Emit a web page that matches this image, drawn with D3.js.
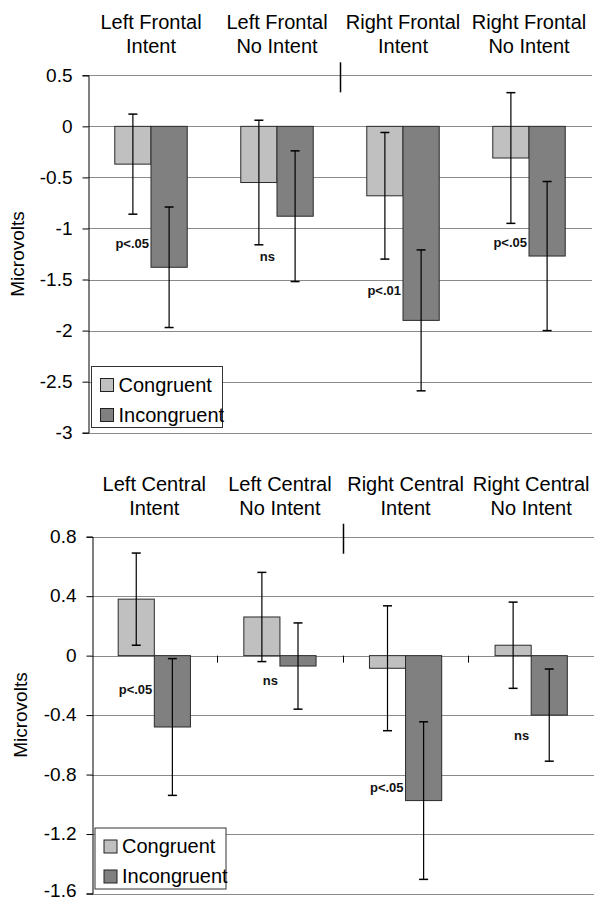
<!DOCTYPE html>
<html>
<head>
<meta charset="utf-8">
<script src="https://cdn.jsdelivr.net/npm/d3@7/dist/d3.min.js"></script>
<style>
  html, body { margin: 0; padding: 0; background: #fff; }
  svg { display: block; font-family: "Liberation Sans", Arial, sans-serif; }
</style>
</head>
<body>
<svg id="chart" width="594" height="901"></svg>
<script>
// ---------- data ----------
const seriesNames = ["Congruent", "Incongruent"];

const categoriesTop = ["Left Frontal|Intent", "Left Frontal|No Intent", "Right Frontal|Intent", "Right Frontal|No Intent"];
const congruentTop = [-0.37, -0.55, -0.68, -0.31];
const incongruentTop = [-1.38, -0.88, -1.90, -1.27];
const congruentErrTop = [0.49, 0.61, 0.62, 0.64];
const incongruentErrTop = [0.59, 0.64, 0.69, 0.73];
const pLabelsTop = ["p<.05", "ns", "p<.01", "p<.05"];
const pLabelValTop = [-1.19, -1.32, -1.65, -1.18];
const ticksTop = [0.5, 0, -0.5, -1, -1.5, -2, -2.5, -3];
const tickLabelsTop = ["0.5", "0", "-0.5", "-1", "-1.5", "-2", "-2.5", "-3"];

const categoriesBot = ["Left Central|Intent", "Left Central|No Intent", "Right Central|Intent", "Right Central|No Intent"];
const congruentBot = [0.38, 0.26, -0.085, 0.07];
const incongruentBot = [-0.48, -0.07, -0.975, -0.40];
const congruentErrBot = [0.31, 0.30, 0.42, 0.29];
const incongruentErrBot = [0.46, 0.29, 0.53, 0.31];
const pLabelsBot = ["p<.05", "ns", "p<.05", "ns"];
const pLabelValBot = [-0.26, -0.20, -0.92, -0.565];
const ticksBot = [0.8, 0.4, 0, -0.4, -0.8, -1.2, -1.6];
const tickLabelsBot = ["0.8", "0.4", "0", "-0.4", "-0.8", "-1.2", "-1.6"];

// ---------- drawing ----------
const svg = d3.select("#chart");
const colors = { Congruent: "#c0c0c0", Incongruent: "#808080" };

function drawPanel(cfg) {
  const g = svg.append("g");
  const x0 = d3.scaleBand().domain(cfg.categories).range([cfg.left, cfg.right])
    .paddingInner(0.425).paddingOuter(0.2125);
  const x1 = d3.scaleBand().domain(seriesNames).range([0, x0.bandwidth()]);
  const y = d3.scaleLinear().domain([cfg.ticks[cfg.ticks.length - 1], cfg.ticks[0]])
    .range([cfg.bottom, cfg.top]);
  const step = x0.step();
  const catLeft = c => x0(c) - step * 0.2125;

  // gridlines
  g.append("g").selectAll("line").data(cfg.ticks).join("line")
    .attr("x1", cfg.left).attr("x2", cfg.right)
    .attr("y1", d => Math.round(y(d)) + 0.5).attr("y2", d => Math.round(y(d)) + 0.5)
    .attr("stroke", "#8a8a8a").attr("stroke-width", 1);

  // y axis
  const axis = d3.axisLeft(y).tickValues(cfg.ticks)
    .tickFormat((d, i) => cfg.tickLabels[i]).tickSize(6).tickPadding(10);
  const ag = g.append("g").attr("transform", `translate(${Math.round(cfg.left) + 0.5},0)`).call(axis);
  ag.select(".domain").attr("stroke", "#000");
  ag.selectAll(".tick line").attr("stroke", "#000");
  const lastIdx = cfg.ticks.length - 1;
  ag.selectAll(".tick text").attr("font-size", 19).attr("fill", "#000")
    .attr("dy", (d, i) => (cfg.lastLift && i === lastIdx) ? "0.15em" : "0.3em")
    .attr("font-family", "Liberation Sans, Arial, sans-serif");

  // category ticks on zero line
  if (cfg.zeroTicks) {
    g.append("g").selectAll("line").data(cfg.categories.slice(1)).join("line")
      .attr("x1", d => Math.round(catLeft(d)) + 0.5).attr("x2", d => Math.round(catLeft(d)) + 0.5)
      .attr("y1", y(0)).attr("y2", y(0) + 7)
      .attr("stroke", "#000");
  }
  // tick crossing the top line
  const tx = Math.round(catLeft(cfg.categories[2])) + 0.5;
  g.append("line").attr("x1", tx).attr("x2", tx)
    .attr("y1", cfg.top - 13).attr("y2", cfg.top + 17)
    .attr("stroke", "#000").attr("stroke-width", 1.5);

  // bars
  const rows = cfg.categories.map((c, i) => ({
    cat: c,
    vals: [
      { s: "Congruent", v: cfg.cong[i], e: cfg.congErr[i] },
      { s: "Incongruent", v: cfg.incong[i], e: cfg.incongErr[i] }
    ]
  }));
  const grp = g.append("g").selectAll("g").data(rows).join("g")
    .attr("transform", d => `translate(${x0(d.cat)},0)`);
  grp.selectAll("rect").data(d => d.vals).join("rect")
    .attr("x", d => x1(d.s))
    .attr("width", x1.bandwidth())
    .attr("y", d => y(Math.max(0, d.v)))
    .attr("height", d => Math.abs(y(d.v) - y(0)))
    .attr("fill", d => colors[d.s])
    .attr("stroke", "#2a2a2a").attr("stroke-width", 1);

  // error bars
  const eb = grp.selectAll("g.err").data(d => d.vals).join("g").attr("class", "err");
  const cx = d => x1(d.s) + x1.bandwidth() / 2;
  eb.append("line").attr("x1", cx).attr("x2", cx)
    .attr("y1", d => y(d.v + d.e)).attr("y2", d => y(d.v - d.e))
    .attr("stroke", "#000").attr("stroke-width", 1.2);
  [1, -1].forEach(sgn => {
    eb.append("line").attr("x1", d => cx(d) - 4.5).attr("x2", d => cx(d) + 4.5)
      .attr("y1", d => y(d.v + sgn * d.e)).attr("y2", d => y(d.v + sgn * d.e))
      .attr("stroke", "#000").attr("stroke-width", 1.5);
  });

  // significance labels
  g.append("g").selectAll("text").data(cfg.categories).join("text")
    .attr("x", d => x0(d) + x1.bandwidth() - 2)
    .attr("y", (d, i) => y(cfg.pVals[i]))
    .attr("text-anchor", "end")
    .attr("font-size", 13).attr("font-weight", "bold").attr("fill", "#111")
    .text((d, i) => cfg.pLabels[i]);

  // category labels
  const cl = g.append("g").selectAll("text").data(cfg.categories).join("text")
    .attr("x", d => x0(d) + x0.bandwidth() / 2)
    .attr("y", cfg.top - 46)
    .attr("text-anchor", "middle").attr("font-size", 20).attr("fill", "#000");
  cl.selectAll("tspan").data(d => d.split("|")).join("tspan")
    .attr("x", function () { return d3.select(this.parentNode).attr("x"); })
    .attr("dy", (d, i) => i === 0 ? 0 : 24)
    .text(d => d);

  // y title
  g.append("text")
    .attr("transform", `translate(${cfg.titleX},${(cfg.top + cfg.bottom) / 2}) rotate(-90)`)
    .attr("text-anchor", "middle").attr("font-size", 19).attr("fill", "#000")
    .text("Microvolts");

  // legend
  const lg = g.append("g").attr("transform", `translate(${cfg.left + 3.5},${cfg.legendY})`);
  lg.append("rect").attr("x", 0).attr("y", 0).attr("width", 131).attr("height", 61)
    .attr("fill", "#fff").attr("stroke", "#333").attr("stroke-width", 1);
  seriesNames.forEach((s, i) => {
    lg.append("rect").attr("x", 9).attr("y", 12 + i * 30).attr("width", 13).attr("height", 13)
      .attr("fill", colors[s]).attr("stroke", "#222");
    lg.append("text").attr("x", 27).attr("y", 25 + i * 30)
      .attr("font-size", 20).attr("fill", "#000").text(s);
  });
}

drawPanel({
  categories: categoriesTop, cong: congruentTop, incong: incongruentTop,
  congErr: congruentErrTop, incongErr: incongruentErrTop,
  pLabels: pLabelsTop, pVals: pLabelValTop,
  ticks: ticksTop, tickLabels: tickLabelsTop,
  left: 88, right: 592, top: 75.3, bottom: 432.7,
  zeroTicks: false, titleX: 24, legendY: 366.5, lastLift: false
});
drawPanel({
  categories: categoriesBot, cong: congruentBot, incong: incongruentBot,
  congErr: congruentErrBot, incongErr: incongruentErrBot,
  pLabels: pLabelsBot, pVals: pLabelValBot,
  ticks: ticksBot, tickLabels: tickLabelsBot,
  left: 91.5, right: 594, top: 536.7, bottom: 893.5,
  zeroTicks: true, titleX: 27, legendY: 828, lastLift: true
});
</script>
</body>
</html>
